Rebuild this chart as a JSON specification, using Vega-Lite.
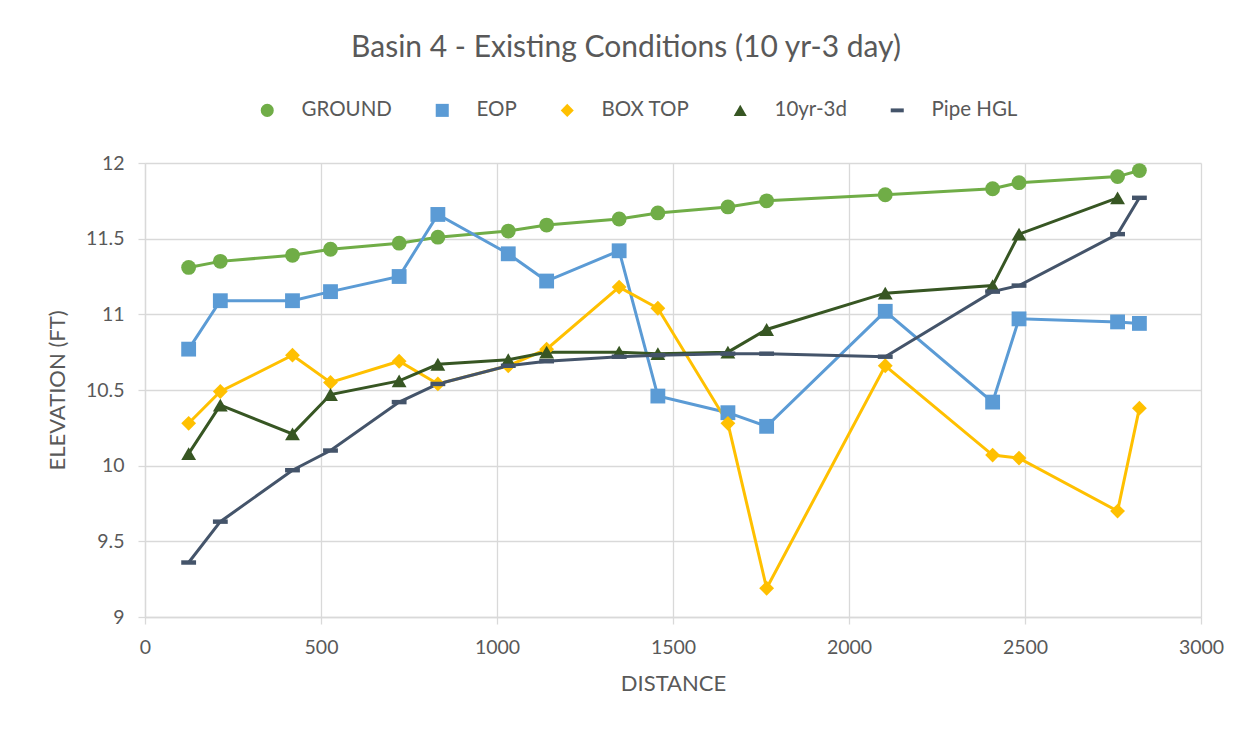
{
  "$schema": "https://vega.github.io/schema/vega-lite/v6.json",
  "autosize": {"type": "none"},
  "width": 1056,
  "height": 454,
  "padding": {"left": 145, "top": 163, "right": 51, "bottom": 117},
  "background": "white",
  "title": {
    "text": "Basin 4 - Existing Conditions (10 yr-3 day)",
    "font": "Lato",
    "fontSize": 30,
    "fontWeight": "normal",
    "color": "#595959",
    "anchor": "middle",
    "dx": -47,
    "offset": 37
  },
  "datasets": {
    "rows": [
      {"series": "GROUND", "distance": 124, "elevation": 11.31},
      {"series": "GROUND", "distance": 214, "elevation": 11.35},
      {"series": "GROUND", "distance": 419, "elevation": 11.39},
      {"series": "GROUND", "distance": 527, "elevation": 11.43},
      {"series": "GROUND", "distance": 722, "elevation": 11.47},
      {"series": "GROUND", "distance": 832, "elevation": 11.51},
      {"series": "GROUND", "distance": 1032, "elevation": 11.55},
      {"series": "GROUND", "distance": 1141, "elevation": 11.59},
      {"series": "GROUND", "distance": 1347, "elevation": 11.63},
      {"series": "GROUND", "distance": 1457, "elevation": 11.67},
      {"series": "GROUND", "distance": 1656, "elevation": 11.71},
      {"series": "GROUND", "distance": 1766, "elevation": 11.75},
      {"series": "GROUND", "distance": 2103, "elevation": 11.79},
      {"series": "GROUND", "distance": 2408, "elevation": 11.83},
      {"series": "GROUND", "distance": 2483, "elevation": 11.87},
      {"series": "GROUND", "distance": 2763, "elevation": 11.91},
      {"series": "GROUND", "distance": 2825, "elevation": 11.95},
      {"series": "EOP", "distance": 124, "elevation": 10.77},
      {"series": "EOP", "distance": 214, "elevation": 11.09},
      {"series": "EOP", "distance": 419, "elevation": 11.09},
      {"series": "EOP", "distance": 527, "elevation": 11.15},
      {"series": "EOP", "distance": 722, "elevation": 11.25},
      {"series": "EOP", "distance": 832, "elevation": 11.66},
      {"series": "EOP", "distance": 1032, "elevation": 11.40},
      {"series": "EOP", "distance": 1141, "elevation": 11.22},
      {"series": "EOP", "distance": 1347, "elevation": 11.42},
      {"series": "EOP", "distance": 1457, "elevation": 10.46},
      {"series": "EOP", "distance": 1656, "elevation": 10.35},
      {"series": "EOP", "distance": 1766, "elevation": 10.26},
      {"series": "EOP", "distance": 2103, "elevation": 11.02},
      {"series": "EOP", "distance": 2408, "elevation": 10.42},
      {"series": "EOP", "distance": 2483, "elevation": 10.97},
      {"series": "EOP", "distance": 2763, "elevation": 10.95},
      {"series": "EOP", "distance": 2825, "elevation": 10.94},
      {"series": "BOX TOP", "distance": 124, "elevation": 10.28},
      {"series": "BOX TOP", "distance": 214, "elevation": 10.49},
      {"series": "BOX TOP", "distance": 419, "elevation": 10.73},
      {"series": "BOX TOP", "distance": 527, "elevation": 10.55},
      {"series": "BOX TOP", "distance": 722, "elevation": 10.69},
      {"series": "BOX TOP", "distance": 832, "elevation": 10.54},
      {"series": "BOX TOP", "distance": 1032, "elevation": 10.66},
      {"series": "BOX TOP", "distance": 1141, "elevation": 10.77},
      {"series": "BOX TOP", "distance": 1347, "elevation": 11.18},
      {"series": "BOX TOP", "distance": 1457, "elevation": 11.04},
      {"series": "BOX TOP", "distance": 1656, "elevation": 10.28},
      {"series": "BOX TOP", "distance": 1766, "elevation": 9.19},
      {"series": "BOX TOP", "distance": 2103, "elevation": 10.66},
      {"series": "BOX TOP", "distance": 2408, "elevation": 10.07},
      {"series": "BOX TOP", "distance": 2483, "elevation": 10.05},
      {"series": "BOX TOP", "distance": 2763, "elevation": 9.70},
      {"series": "BOX TOP", "distance": 2825, "elevation": 10.38},
      {"series": "10yr-3d", "distance": 124, "elevation": 10.08},
      {"series": "10yr-3d", "distance": 214, "elevation": 10.40},
      {"series": "10yr-3d", "distance": 419, "elevation": 10.21},
      {"series": "10yr-3d", "distance": 527, "elevation": 10.47},
      {"series": "10yr-3d", "distance": 722, "elevation": 10.56},
      {"series": "10yr-3d", "distance": 832, "elevation": 10.67},
      {"series": "10yr-3d", "distance": 1032, "elevation": 10.70},
      {"series": "10yr-3d", "distance": 1141, "elevation": 10.75},
      {"series": "10yr-3d", "distance": 1347, "elevation": 10.75},
      {"series": "10yr-3d", "distance": 1457, "elevation": 10.74},
      {"series": "10yr-3d", "distance": 1656, "elevation": 10.75},
      {"series": "10yr-3d", "distance": 1766, "elevation": 10.90},
      {"series": "10yr-3d", "distance": 2103, "elevation": 11.14},
      {"series": "10yr-3d", "distance": 2408, "elevation": 11.19},
      {"series": "10yr-3d", "distance": 2483, "elevation": 11.53},
      {"series": "10yr-3d", "distance": 2763, "elevation": 11.77},
      {"series": "Pipe HGL", "distance": 124, "elevation": 9.36},
      {"series": "Pipe HGL", "distance": 214, "elevation": 9.63},
      {"series": "Pipe HGL", "distance": 419, "elevation": 9.97},
      {"series": "Pipe HGL", "distance": 527, "elevation": 10.10},
      {"series": "Pipe HGL", "distance": 722, "elevation": 10.42},
      {"series": "Pipe HGL", "distance": 832, "elevation": 10.54},
      {"series": "Pipe HGL", "distance": 1032, "elevation": 10.66},
      {"series": "Pipe HGL", "distance": 1141, "elevation": 10.69},
      {"series": "Pipe HGL", "distance": 1347, "elevation": 10.72},
      {"series": "Pipe HGL", "distance": 1457, "elevation": 10.73},
      {"series": "Pipe HGL", "distance": 1656, "elevation": 10.74},
      {"series": "Pipe HGL", "distance": 1766, "elevation": 10.74},
      {"series": "Pipe HGL", "distance": 2103, "elevation": 10.72},
      {"series": "Pipe HGL", "distance": 2408, "elevation": 11.15},
      {"series": "Pipe HGL", "distance": 2483, "elevation": 11.19},
      {"series": "Pipe HGL", "distance": 2763, "elevation": 11.53},
      {"series": "Pipe HGL", "distance": 2825, "elevation": 11.77}
    ]
  },
  "data": {"name": "rows"},
  "encoding": {
    "x": {
      "field": "distance",
      "type": "quantitative",
      "scale": {"domain": [0, 3000], "nice": false, "zero": false},
      "axis": {
        "title": "DISTANCE",
        "values": [0, 500, 1000, 1500, 2000, 2500, 3000],
        "format": "d",
        "titlePadding": 17
      }
    },
    "y": {
      "field": "elevation",
      "type": "quantitative",
      "scale": {"domain": [9, 12], "nice": false, "zero": false},
      "axis": {
        "title": "ELEVATION (FT)",
        "values": [9, 9.5, 10, 10.5, 11, 11.5, 12],
        "format": "~g",
        "titlePadding": 16
      }
    },
    "color": {
      "field": "series",
      "type": "nominal",
      "scale": {
        "domain": ["GROUND", "EOP", "BOX TOP", "10yr-3d", "Pipe HGL"],
        "range": ["#70AD47", "#5B9BD5", "#FFC000", "#375623", "#44546A"]
      },
      "legend": {
        "title": null,
        "orient": "none",
        "direction": "horizontal",
        "legendX": 112,
        "legendY": -63,
        "symbolSize": 170,
        "symbolStrokeWidth": 0,
        "labelOffset": 24,
        "columnPadding": 40,
        "labelFontSize": 20.5,
        "labelFont": "Lato",
        "labelColor": "#595959"
      }
    }
  },
  "layer": [
    {
      "mark": {"type": "line", "strokeWidth": 3}
    },
    {
      "mark": {"type": "point", "filled": true, "opacity": 1, "size": 220},
      "encoding": {
        "shape": {
          "field": "series",
          "type": "nominal",
          "scale": {
            "domain": ["GROUND", "EOP", "BOX TOP", "10yr-3d", "Pipe HGL"],
            "range": ["circle", "square", "diamond", "triangle-up", "M-1,-0.3H1V0.3H-1Z"]
          },
          "legend": {
            "title": null,
            "orient": "none",
            "direction": "horizontal",
            "legendX": 112,
            "legendY": -63,
            "symbolSize": 170,
            "symbolStrokeWidth": 0,
            "labelOffset": 24,
            "columnPadding": 40,
            "labelFontSize": 20.5,
            "labelFont": "Lato",
            "labelColor": "#595959"
          }
        }
      }
    }
  ],
  "config": {
    "font": "Lato",
    "view": {"stroke": null},
    "axis": {
      "labelFont": "Lato",
      "labelFontSize": 19.5,
      "labelColor": "#595959",
      "labelFlush": false,
      "titleFont": "Lato",
      "titleFontSize": 22,
      "titleFontWeight": "normal",
      "titleColor": "#595959",
      "gridColor": "#D9D9D9",
      "gridWidth": 1.3,
      "domainColor": "#D9D9D9",
      "domainWidth": 1.3,
      "tickColor": "#D9D9D9",
      "tickWidth": 1.3,
      "tickSize": 7,
      "labelPadding": 14
    }
  }
}
